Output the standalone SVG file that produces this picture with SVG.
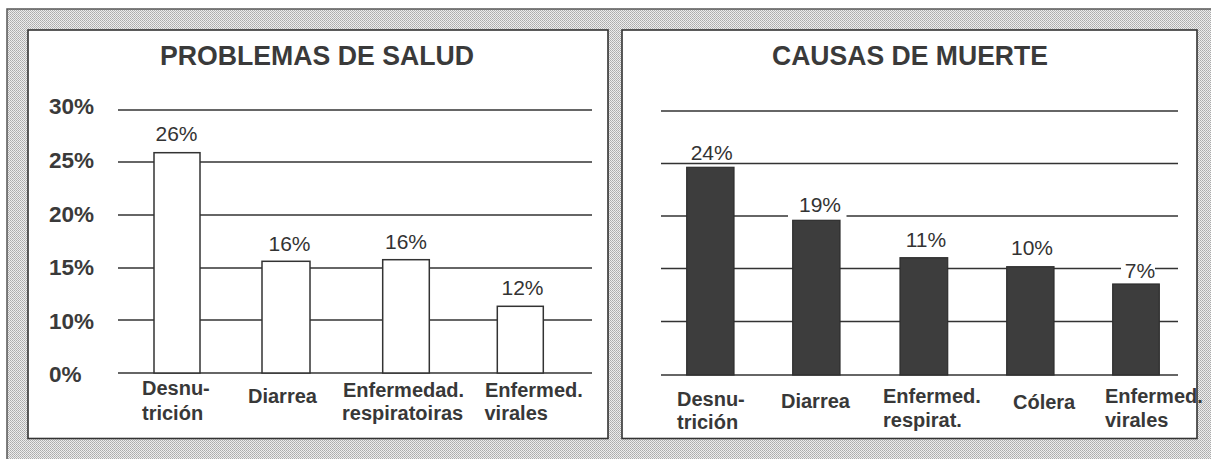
<svg xmlns="http://www.w3.org/2000/svg" width="1211" height="459" viewBox="0 0 1211 459">
  <defs>
    <pattern id="stipple" width="2" height="2" patternUnits="userSpaceOnUse">
      <rect width="2" height="2" fill="#ededed"/>
      <rect width="1" height="1" fill="#ababab"/>
      <rect x="1" y="1" width="1" height="1" fill="#b8b8b8"/>
    </pattern>
  </defs>
  <style>
    .panel { fill: #ffffff; stroke: #333333; stroke-width: 1.6; }
    .grid { stroke: #333333; stroke-width: 1.4; fill: none; }
    .barW { fill: #ffffff; stroke: #333333; stroke-width: 1.5; }
    .barD { fill: #3d3d3d; stroke: #2e2e2e; stroke-width: 1.2; }
    .title { font-family: "Liberation Sans", Arial, sans-serif; font-weight: bold; font-size: 28px; fill: #3a3a3a; text-anchor: middle; }
    .ylab { font-family: "Liberation Sans", Arial, sans-serif; font-weight: bold; font-size: 22.5px; fill: #3a3a3a; }
    .val { font-family: "Liberation Sans", Arial, sans-serif; font-size: 21px; fill: #333333; text-anchor: middle; }
    .cat { font-family: "Liberation Sans", Arial, sans-serif; font-weight: bold; font-size: 20px; fill: #383838; }
    .mask { fill: #ffffff; }
  </style>

  <g id="background">
    <rect x="0" y="0" width="1211" height="459" fill="#ffffff"/>
    <rect x="7" y="9" width="1204" height="450" fill="url(#stipple)"/>
    <path d="M7 459 V9 H1211" fill="none" stroke="#555555" stroke-width="1.5"/>
  </g>

  <g id="panel-salud">
    <rect class="panel" x="28" y="30" width="580" height="408.5"/>
    <text class="title" x="317" y="65" textLength="314" lengthAdjust="spacingAndGlyphs">PROBLEMAS DE SALUD</text>
  </g>

  <g id="panel-muerte">
    <rect class="panel" x="622" y="30" width="575" height="408.5"/>
    <text class="title" x="910" y="65" textLength="276" lengthAdjust="spacingAndGlyphs">CAUSAS DE MUERTE</text>
  </g>

  <g id="axis-salud">
    <text class="ylab" x="49" y="114">30%</text>
    <text class="ylab" x="49" y="168">25%</text>
    <text class="ylab" x="49" y="221.5">20%</text>
    <text class="ylab" x="49" y="275">15%</text>
    <text class="ylab" x="49" y="329">10%</text>
    <text class="ylab" x="49" y="382">0%</text>
  </g>

  <g id="connectors">
    <g id="grid-salud">
      <line class="grid" x1="118" y1="110" x2="592" y2="110"/>
      <line class="grid" x1="118" y1="162" x2="592" y2="162"/>
      <line class="grid" x1="118" y1="215" x2="592" y2="215"/>
      <line class="grid" x1="118" y1="268" x2="592" y2="268"/>
      <line class="grid" x1="118" y1="320" x2="592" y2="320"/>
      <line class="grid" x1="118" y1="373" x2="592" y2="373"/>
    </g>
    <g id="grid-muerte">
      <line class="grid" x1="661" y1="111" x2="1178" y2="111"/>
      <line class="grid" x1="661" y1="163.5" x2="1178" y2="163.5"/>
      <line class="grid" x1="661" y1="216" x2="1178" y2="216"/>
      <line class="grid" x1="661" y1="268.5" x2="1178" y2="268.5"/>
      <line class="grid" x1="661" y1="321.5" x2="1178" y2="321.5"/>
      <line class="grid" x1="661" y1="375" x2="1178" y2="375"/>
    </g>
  </g>

  <g id="bar-salud-desnutricion">
    <rect class="barW" x="154" y="152.7" width="46" height="220.3"/>
    <text class="val" x="176.5" y="140.5">26%</text>
    <text class="cat" x="142" y="395">Desnu-</text>
    <text class="cat" x="142" y="420">trición</text>
  </g>
  <g id="bar-salud-diarrea">
    <rect class="barW" x="262" y="261.3" width="48" height="111.7"/>
    <text class="val" x="289.5" y="250.5">16%</text>
    <text class="cat" x="248" y="403">Diarrea</text>
  </g>
  <g id="bar-salud-respiratorias">
    <rect class="barW" x="382.7" y="259.7" width="46.6" height="113.3"/>
    <text class="val" x="406" y="248.5">16%</text>
    <text class="cat" x="343" y="396.5">Enfermedad.</text>
    <text class="cat" x="342" y="420">respiratoiras</text>
  </g>
  <g id="bar-salud-virales">
    <rect class="barW" x="497.3" y="306.3" width="46" height="66.7"/>
    <text class="val" x="522.5" y="295">12%</text>
    <text class="cat" x="485" y="396.5">Enfermed.</text>
    <text class="cat" x="484.5" y="420">virales</text>
  </g>

  <g id="bar-muerte-desnutricion">
    <rect class="barD" x="686.7" y="167.3" width="47.3" height="207.7"/>
    <text class="val" x="711.7" y="160">24%</text>
    <text class="cat" x="677" y="406">Desnu-</text>
    <text class="cat" x="677" y="429">trición</text>
  </g>
  <g id="bar-muerte-diarrea">
    <rect class="barD" x="792.7" y="220" width="47.3" height="155"/>
    <rect class="mask" x="788" y="212.5" width="58.5" height="7"/>
    <text class="val" x="820" y="211.5">19%</text>
    <text class="cat" x="781" y="408">Diarrea</text>
  </g>
  <g id="bar-muerte-respiratorias">
    <rect class="barD" x="900" y="257.7" width="47.7" height="117.3"/>
    <text class="val" x="926" y="247">11%</text>
    <text class="cat" x="883" y="403">Enfermed.</text>
    <text class="cat" x="883" y="427">respirat.</text>
  </g>
  <g id="bar-muerte-colera">
    <rect class="barD" x="1006.7" y="266.7" width="47.3" height="108.3"/>
    <text class="val" x="1032" y="255">10%</text>
    <text class="cat" x="1013" y="409">Cólera</text>
  </g>
  <g id="bar-muerte-virales">
    <rect class="barD" x="1112.7" y="284" width="46.6" height="91"/>
    <rect class="mask" x="1121" y="262" width="34" height="12"/>
    <text class="val" x="1140" y="278">7%</text>
    <text class="cat" x="1105" y="403">Enfermed.</text>
    <text class="cat" x="1105" y="427">virales</text>
  </g>
</svg>
